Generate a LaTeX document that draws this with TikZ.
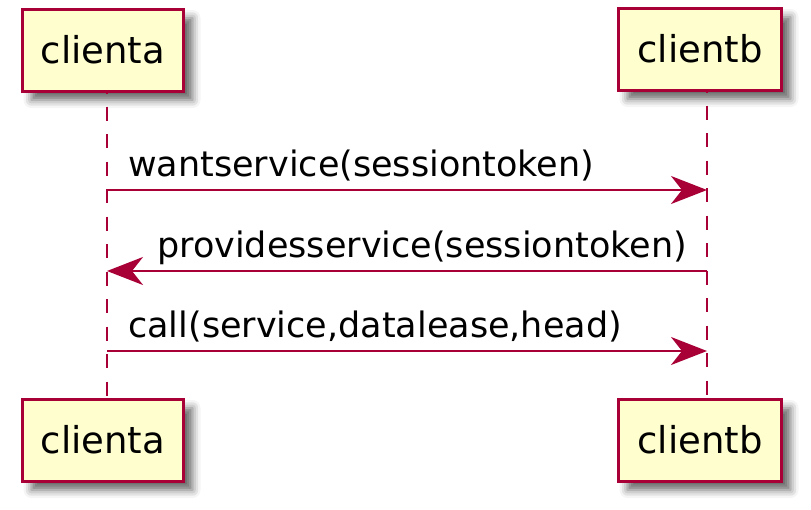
\documentclass[tikz,border=0pt]{standalone}
\usepackage{fontspec}
\setmainfont{DejaVu Sans}
\usetikzlibrary{arrows.meta, shadows.blur}

\definecolor{umlred}{HTML}{A80036}
\definecolor{umlfill}{HTML}{FEFECE}

\tikzset{
	actorbox/.style = {draw = umlred, fill = umlfill, line width = 3pt,
		minimum width = 161pt, minimum height = 82pt, inner sep = 0pt,
		font = \fontsize{37}{40}\selectfont,
		blur shadow = {shadow xshift = 9pt, shadow yshift = -9pt,
			shadow blur radius = 8pt, shadow opacity = 60}},
	lifeline/.style = {umlred, line width = 2.5pt, dash pattern = on 14pt off 13.5pt,
		dash phase = 13.5pt},
	message/.style = {umlred, line width = 2pt,
		-{Stealth[length = 36pt, width = 28pt, inset = 11pt]}},
	msglabel/.style = {font = \fontsize{35}{38}\selectfont, anchor = base west, inner sep = 0pt}
}

\begin{document}
\begin{tikzpicture}[x = 1pt, y = -1pt]
		\useasboundingbox (0, 0) rectangle (811, 509);
		\pgfmathsetmacro\xa{107}
		\pgfmathsetmacro\xb{707}

		% participants, top and bottom
		\node[actorbox] (ta) at (103, 50) {clienta};
		\node[actorbox, minimum width = 163pt] (tb) at (700, 49) {clientb};
		\node[actorbox] (ba) at (103, 440) {clienta};
		\node[actorbox, minimum width = 163pt] (bb) at (700, 440) {clientb};

		% lifelines
		\draw[lifeline] (ta.south -| \xa, 0) -- (ba.north -| \xa, 0);
		\draw[lifeline] (tb.south -| \xb, 0) -- (bb.north -| \xb, 0);

		% messages
		\foreach \y / \from / \to / \lx / \txt in {%
			190/\xa/\xb/128/wantservice(sessiontoken),
			271/\xb/\xa/157/providesservice(sessiontoken),
			351/\xa/\xb/128/{call(service,datalease,head)}%
		}{
			\coordinate (src\y) at (\from, \y);
			\coordinate (dst\y) at (\to, \y);
			\draw[message] (src\y) -- (dst\y);
			\node[msglabel] (lbl\y) at (\lx, \y - 14) {\txt};
		}

	\end{tikzpicture}
\end{document}
